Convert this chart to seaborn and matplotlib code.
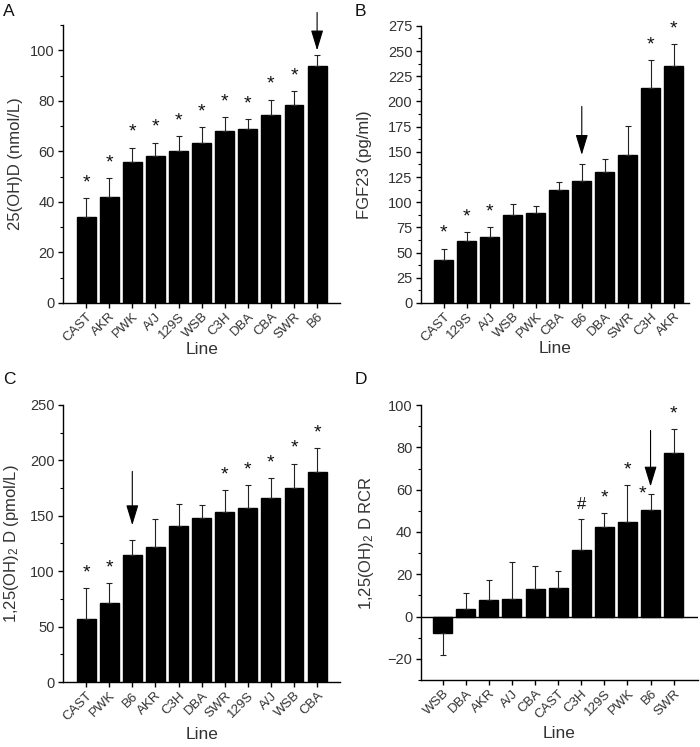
import numpy as np
import pandas as pd
import seaborn as sns
import matplotlib.pyplot as plt
from matplotlib.ticker import MultipleLocator

sns.set_style('ticks')
plt.rcParams['font.family'] = ['Liberation Sans', 'DejaVu Sans']
plt.rcParams['mathtext.default'] = 'regular'

# panel A - 25(OH)D
a_lines = ['CAST', 'AKR', 'PWK', 'A/J', '129S', 'WSB', 'C3H', 'DBA', 'CBA', 'SWR', 'B6']
a_mean = [34, 42, 56, 58, 60, 63.5, 68, 69, 74.5, 78.5, 94]
a_err = [7.5, 7.5, 5.5, 5.5, 6, 6, 5.5, 3.8, 6, 5.5, 4]
a_mark = ['*', '*', '*', '*', '*', '*', '*', '*', '*', '*', '']

# panel B - FGF23
b_lines = ['CAST', '129S', 'A/J', 'WSB', 'PWK', 'CBA', 'B6', 'DBA', 'SWR', 'C3H', 'AKR']
b_mean = [43, 62, 65.5, 87, 89.5, 112, 121.5, 130, 147, 213.5, 235.5]
b_err = [11, 8, 9.5, 11.5, 7, 8.5, 16.5, 13, 28.5, 27.5, 21.5]
b_mark = ['*', '*', '*', '', '', '', '', '', '', '*', '*']

# panel C - 1,25(OH)2D
c_lines = ['CAST', 'PWK', 'B6', 'AKR', 'C3H', 'DBA', 'SWR', '129S', 'A/J', 'WSB', 'CBA']
c_mean = [57, 71, 115, 122, 140.5, 148, 153, 157, 166, 175, 189.5]
c_err = [28, 18, 13.5, 25, 20, 12, 20, 20.5, 18, 22, 21.5]
c_mark = ['*', '*', '', '', '', '', '*', '*', '*', '*', '*']

# panel D - 1,25(OH)2D RCR
d_lines = ['WSB', 'DBA', 'AKR', 'A/J', 'CBA', 'CAST', 'C3H', '129S', 'PWK', 'B6', 'SWR']
d_mean = [-8, 3.5, 8, 8.5, 13, 13.5, 31.5, 42.5, 44.5, 50.5, 77.5]
d_err = [10, 7.5, 9.5, 17.5, 11, 8, 14.5, 6.5, 17.5, 7.5, 11]
d_mark = ['', '', '', '', '', '', '#', '*', '*', '*', '*']

panels = [
    ('A', a_lines, a_mean, a_err, a_mark, '25(OH)D (nmol/L)', (0, 110), 20, 10, (-1, 11), (115, 100)),
    ('B', b_lines, b_mean, b_err, b_mark, 'FGF23 (pg/ml)', (0, 275), 25, 12.5, (-1, 10.65), (195, 147)),
    ('C', c_lines, c_mean, c_err, c_mark, '1,25(OH)$_2$ D (pmol/L)', (0, 250), 50, 25, (-1, 11), (190, 141.5)),
    ('D', d_lines, d_mean, d_err, d_mark, '1,25(OH)$_2$ D RCR', (-30, 100), 20, 10, (-0.95, 11.05), (88, 61.5)),
]
boxes = [
    [0.09, 0.5944, 0.396, 0.372],
    [0.601, 0.5944, 0.383, 0.371],
    [0.09, 0.087, 0.396, 0.371],
    [0.601, 0.0897, 0.396, 0.368],
]
letter_pos = [(0.004, 0.994), (0.506, 0.994), (0.004, 0.502), (0.506, 0.502)]
# label positions in axes fraction (xlabel y, ylabel x)
xlab_y = [-0.166, -0.166, -0.191, -0.193]
ylab_x = [-0.173, -0.209, -0.184, -0.195]

fig = plt.figure(figsize=(7, 7.47), dpi=100)
tc = '#333333'

for k, ((letter, lines, mean, err, mark, ylab, ylim, major, minor, xlim, arrow), box, lp) in enumerate(zip(panels, boxes, letter_pos)):
    ax = fig.add_axes(box)
    df = pd.DataFrame({'Line': lines, 'value': mean})
    sns.barplot(data=df, x='Line', y='value', color='black', width=0.82,
                saturation=1, errorbar=None, ax=ax, edgecolor='black')
    x = np.arange(len(lines))
    m = np.array(mean)
    e = np.array(err)
    up = np.where(m >= 0, e, 0)
    lo = np.where(m < 0, e, 0)
    ax.errorbar(x, m, yerr=[lo, up], fmt='none', ecolor='#222222',
                elinewidth=0.8, capsize=2.5, capthick=0.8, zorder=1)
    for i, s in enumerate(mark):
        if not s:
            continue
        top = m[i] + up[i]
        dx, dy = 0, 11
        if letter == 'D' and lines[i] == 'B6':
            dx, dy = -6, 0
        ax.annotate(s, (x[i], top), xytext=(dx, dy), textcoords='offset points',
                    ha='center', va='center', fontsize=14 if s == '*' else 12,
                    color='#111111', annotation_clip=False)
    bi = lines.index('B6')
    ax.annotate('', xy=(bi, arrow[1]), xytext=(bi, arrow[0]),
                arrowprops=dict(arrowstyle='-|>,head_length=1.25,head_width=0.38',
                                color='black', lw=0.8, shrinkA=0, shrinkB=0),
                annotation_clip=False)
    if letter == 'D':
        ax.axhline(0, color='black', lw=1, zorder=0)
    ax.set_ylim(*ylim)
    ax.set_xlim(*xlim)
    ax.yaxis.set_major_locator(MultipleLocator(major))
    ax.yaxis.set_minor_locator(MultipleLocator(minor))
    sns.despine(ax=ax)
    for sp in ['left', 'bottom']:
        ax.spines[sp].set_linewidth(1.0)
        ax.spines[sp].set_color('black')
    ax.tick_params(axis='both', which='major', direction='out', length=3.5, width=1,
                   labelsize=10.5, labelcolor=tc, color='black', pad=2.5)
    ax.tick_params(axis='x', which='major', labelsize=9.5, pad=2)
    ax.tick_params(axis='y', which='minor', direction='out', length=2.2, width=0.8, color='black')
    ax.set_xticks(x)
    ax.set_xticklabels(lines, rotation=45, ha='right', rotation_mode='anchor')
    ax.set_ylabel(ylab, fontsize=12, color=tc, va='center')
    ax.set_xlabel('Line', fontsize=12.5, color=tc, va='center')
    ax.xaxis.set_label_coords(0.5, xlab_y[k])
    ax.yaxis.set_label_coords(ylab_x[k], 0.5)
    fig.text(lp[0], lp[1], letter, fontsize=12.5, color='#111111', va='top', ha='left')

fig.savefig('out.png', dpi=100)
